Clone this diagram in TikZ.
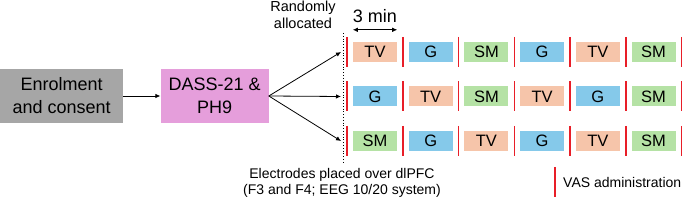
\documentclass[tikz,border=0pt]{standalone}
\usepackage{fontspec}
\setmainfont{Liberation Sans}
\usetikzlibrary{arrows.meta,positioning}
\definecolor{grey}{RGB}{166,166,166}
\definecolor{pink}{RGB}{229,158,219}
\definecolor{colTV}{RGB}{246,197,170}
\definecolor{colG}{RGB}{133,201,234}
\definecolor{colSM}{RGB}{181,226,165}
\definecolor{vasred}{RGB}{232,30,40}

\begin{document}
\begin{tikzpicture}[x=1pt,y=-1pt,node distance=37pt,
    every node/.style={align=center,inner sep=0pt},
    stage/.style={minimum width=#1,minimum height=54pt,font=\fontsize{18}{23}\selectfont},
    cond/.style={minimum width=44pt,minimum height=20pt,font=\fontsize{16.5}{18}\selectfont},
    vas/.style={draw=vasred,line width=1.4pt},
    note/.style={font=\fontsize{14}{16}\selectfont},
    arr/.style={-{Latex[length=5pt,width=4.5pt]},line width=0.8pt}]
    \useasboundingbox (0,0) rectangle (685,200);
    \node[stage=123pt,fill=grey,anchor=west] (a) at (0,96) {Enrolment\\and consent};
    \node[stage=108pt,fill=pink,right=of a] (b) {DASS-21 \&\\PH9};
    \draw[arr] (a)--(b);
    % three randomised sequences
    \foreach \seq [count=\r] in {{TV,G,SM,G,TV,SM},{G,TV,SM,TV,G,SM},{SM,G,TV,G,TV,SM}}{
      \pgfmathsetmacro\yy{52+44.5*(\r-1)}
      \coordinate (s\r) at (341,\yy);
      \draw[arr] (b.east) -- (s\r);
      \draw[vas] (347,\yy-15) -- (347,\yy+15);
      \foreach \c [count=\k] in \seq {
        \pgfmathsetmacro\xx{375+55.7*(\k-1)}
        \node[cond,fill=col\c] (r\r-\k) at (\xx,\yy) {\c};
        \draw[vas] (\xx+28,\yy-15) -- (\xx+28,\yy+15);
      }
    }
    \draw[dotted,line width=0.8pt] (343,33) -- (343,162);
    \draw[{Latex[length=5pt,width=4.5pt]}-{Latex[length=5pt,width=4.5pt]},line width=0.8pt] ([yshift=12pt]r1-1.north west) -- ([yshift=12pt]r1-1.north east);
    \node[font=\fontsize{18}{20}\selectfont] (t) at (375,16) {3 min};
    \node[note,font=\fontsize{14.5}{17}\selectfont] (ra) at (303,15) {Randomly\\allocated};
    \node[note] (el) at (342,183) {Electrodes placed over dlPFC\\(F3 and F4; EEG 10/20 system)};
    % legend
    \draw[vas] (555,167) -- (555,197);
    \node[note,anchor=west] (l) at (563,182) {VAS administration};
  \end{tikzpicture}
\end{document}
